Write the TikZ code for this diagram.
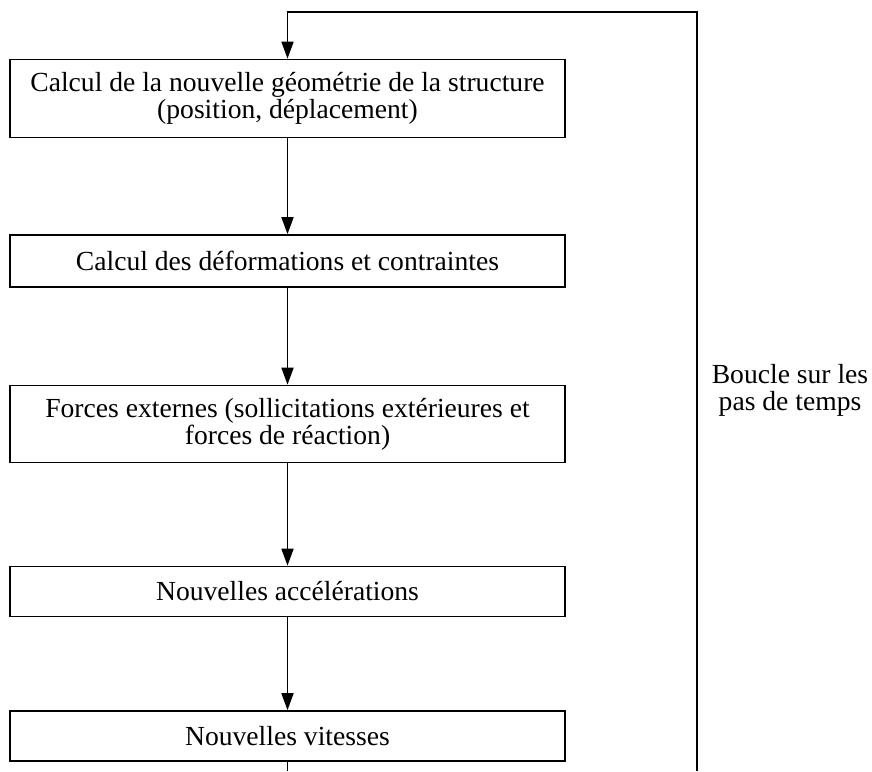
\documentclass[tikz,border=0pt]{standalone}
\usepackage{fontspec}
\setmainfont{Liberation Serif}
\usepackage{tikz}
\usetikzlibrary{positioning,calc}
\usetikzlibrary{arrows.meta}
\tikzset{
  stage/.style={draw=black,line width=0.8pt,fill=white,minimum width=277.5pt,
    inner sep=2pt,align=center,font=\fontsize{13.8}{13.6}\selectfont},
  flow/.style={draw=black,line width=0.8pt,-{Triangle[length=8.5pt,width=6pt]}},
  loopline/.style={draw=black,line width=0.8pt},
}
\begin{document}
\begin{tikzpicture}[x=0.5pt,y=-0.5pt]
\useasboundingbox (0,0) rectangle (872,771);
\coordinate (c1) at (287.5,98.5);
\coordinate (c2) at (287.5,261);
\coordinate (c3) at (287.5,424);
\coordinate (c4) at (287.5,591.5);
\coordinate (c5) at (287.5,736);
\coordinate (out) at (287.5,771);
\coordinate (tl) at (287.5,12);
\coordinate (tr) at (697,12);
\coordinate (br) at (697,771);
\node[stage,minimum height=39pt] (geom) at (c1) {Calcul de la nouvelle géométrie de la structure\\(position, déplacement)};
\node[stage,minimum height=26pt] (defo) at (c2) {Calcul des déformations et contraintes};
\node[stage,minimum height=38.5pt] (forc) at (c3) {Forces externes (sollicitations extérieures et\\forces de réaction)};
\node[stage,minimum height=25pt] (acce) at (c4) {Nouvelles accélérations};
\node[stage,minimum height=25pt] (vite) at (c5) {Nouvelles vitesses};
\draw[flow] (geom) -- (defo);
\draw[flow] (defo) -- (forc);
\draw[flow] (forc) -- (acce);
\draw[flow] (acce) -- (vite);
\draw[loopline] (vite) -- (out);
\draw[flow] (br) -- (tr) -- (tl) -- (geom.north);
\node[align=center,font=\fontsize{13.8}{13.6}\selectfont] (lbl) at (790,390) {Boucle sur les\\pas de temps};
\end{tikzpicture}
\end{document}
